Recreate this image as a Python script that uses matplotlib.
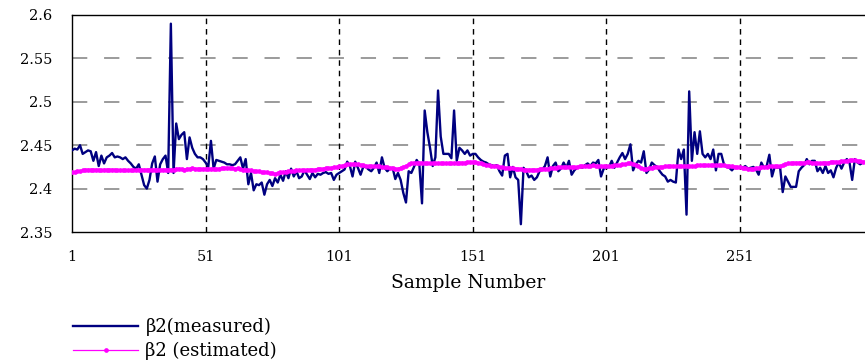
import numpy as np
import matplotlib
matplotlib.use("Agg")
import matplotlib.pyplot as plt

# ==========================================
# DATA
# ==========================================
measured = [
    2.444, 2.446, 2.445, 2.450, 2.440, 2.442, 2.444, 2.443, 2.432, 2.442,
    2.426, 2.438, 2.429, 2.436, 2.438, 2.441, 2.436, 2.437, 2.436, 2.434,
    2.436, 2.432, 2.429, 2.425, 2.423, 2.428, 2.416, 2.404, 2.400, 2.410,
    2.429, 2.437, 2.408, 2.428, 2.434, 2.438, 2.418, 2.590, 2.418, 2.475,
    2.457, 2.462, 2.465, 2.434, 2.459, 2.447, 2.440, 2.436, 2.436, 2.434,
    2.430, 2.425, 2.455, 2.423, 2.433, 2.432, 2.431, 2.430, 2.428, 2.428,
    2.427, 2.428, 2.432, 2.436, 2.423, 2.434, 2.405, 2.418, 2.398, 2.405,
    2.404, 2.407, 2.393, 2.405, 2.410, 2.403, 2.412, 2.407, 2.416, 2.409,
    2.420, 2.412, 2.423, 2.414, 2.420, 2.412, 2.414, 2.421, 2.416, 2.411,
    2.418, 2.413, 2.417, 2.416, 2.418, 2.419, 2.417, 2.418, 2.410, 2.416,
    2.418, 2.420, 2.422, 2.431, 2.426, 2.414, 2.431, 2.424, 2.416, 2.425,
    2.425, 2.422, 2.420, 2.424, 2.430, 2.418, 2.436, 2.424, 2.420, 2.423,
    2.424, 2.411, 2.418, 2.410, 2.395, 2.384, 2.420, 2.418, 2.425, 2.433,
    2.428, 2.383, 2.490, 2.465, 2.447, 2.426, 2.436, 2.513, 2.460, 2.440,
    2.440, 2.440, 2.435, 2.490, 2.432, 2.447, 2.444, 2.440, 2.444, 2.438,
    2.440, 2.440, 2.436, 2.433, 2.431, 2.430, 2.428, 2.427, 2.426, 2.427,
    2.420, 2.415, 2.438, 2.440, 2.413, 2.425, 2.413, 2.410, 2.359, 2.424,
    2.420, 2.413, 2.415, 2.410, 2.413, 2.420, 2.422, 2.426, 2.436, 2.414,
    2.426, 2.430, 2.420, 2.423, 2.430, 2.424, 2.432, 2.416, 2.421, 2.424,
    2.425, 2.424, 2.427, 2.429, 2.426, 2.430, 2.429, 2.433, 2.414, 2.423,
    2.424, 2.425, 2.432, 2.424, 2.430, 2.436, 2.441, 2.434, 2.440, 2.451,
    2.421, 2.428, 2.432, 2.430, 2.443, 2.418, 2.422, 2.430, 2.427, 2.425,
    2.420, 2.416, 2.414, 2.408, 2.410, 2.408, 2.407, 2.445, 2.434, 2.445,
    2.370, 2.512, 2.432, 2.465, 2.440, 2.466, 2.440, 2.436, 2.440, 2.434,
    2.445, 2.421, 2.440, 2.440, 2.428, 2.425, 2.424, 2.421, 2.425, 2.424,
    2.425, 2.424, 2.426, 2.423, 2.424, 2.425, 2.422, 2.416, 2.430, 2.424,
    2.426, 2.439, 2.414, 2.425, 2.424, 2.425, 2.396, 2.414, 2.408, 2.402,
    2.402, 2.402, 2.420, 2.424, 2.427, 2.434, 2.428, 2.432, 2.432, 2.420,
    2.424, 2.418, 2.426, 2.418, 2.421, 2.413, 2.424, 2.430, 2.423, 2.430,
    2.434, 2.430, 2.410, 2.434, 2.430, 2.428, 2.430, 2.431,
]

estimated = [
    2.419, 2.419, 2.420, 2.420, 2.421, 2.422, 2.422, 2.422, 2.422, 2.422,
    2.422, 2.421, 2.422, 2.422, 2.422, 2.422, 2.422, 2.421, 2.421, 2.421,
    2.421, 2.421, 2.421, 2.421, 2.421, 2.422, 2.422, 2.422, 2.422, 2.422,
    2.422, 2.422, 2.422, 2.422, 2.422, 2.422, 2.422, 2.422, 2.422, 2.423,
    2.423, 2.423, 2.422, 2.423, 2.423, 2.424, 2.423, 2.423, 2.423, 2.423,
    2.423, 2.423, 2.423, 2.423, 2.423, 2.423, 2.424, 2.424, 2.424, 2.424,
    2.424, 2.423, 2.424, 2.423, 2.422, 2.422, 2.421, 2.421, 2.420, 2.420,
    2.420, 2.419, 2.419, 2.419, 2.418, 2.418, 2.417, 2.418, 2.419, 2.419,
    2.419, 2.420, 2.420, 2.420, 2.421, 2.421, 2.421, 2.421, 2.422, 2.422,
    2.422, 2.422, 2.423, 2.423, 2.423, 2.424, 2.424, 2.424, 2.425, 2.425,
    2.426, 2.426, 2.427, 2.428, 2.428, 2.428, 2.428, 2.428, 2.427, 2.427,
    2.426, 2.426, 2.426, 2.426, 2.426, 2.426, 2.425, 2.425, 2.425, 2.424,
    2.424, 2.423, 2.423, 2.424, 2.425, 2.426, 2.428, 2.429, 2.430, 2.430,
    2.430, 2.430, 2.429, 2.429, 2.429, 2.429, 2.429, 2.429, 2.429, 2.429,
    2.429, 2.429, 2.429, 2.429, 2.429, 2.430, 2.430, 2.430, 2.431, 2.431,
    2.431, 2.431, 2.430, 2.429, 2.428, 2.427, 2.427, 2.426, 2.426, 2.426,
    2.425, 2.425, 2.424, 2.424, 2.424, 2.424, 2.423, 2.423, 2.423, 2.422,
    2.422, 2.422, 2.422, 2.422, 2.422, 2.423, 2.423, 2.423, 2.423, 2.424,
    2.424, 2.424, 2.425, 2.425, 2.425, 2.425, 2.425, 2.425, 2.425, 2.425,
    2.426, 2.426, 2.426, 2.426, 2.426, 2.427, 2.426, 2.426, 2.426, 2.426,
    2.426, 2.426, 2.426, 2.427, 2.427, 2.427, 2.428, 2.428, 2.429, 2.429,
    2.428, 2.427, 2.426, 2.424, 2.423, 2.423, 2.424, 2.424, 2.425, 2.425,
    2.425, 2.425, 2.426, 2.426, 2.426, 2.426, 2.426, 2.426, 2.426, 2.426,
    2.426, 2.426, 2.426, 2.426, 2.427, 2.427, 2.427, 2.427, 2.427, 2.427,
    2.427, 2.427, 2.427, 2.427, 2.427, 2.426, 2.426, 2.426, 2.425, 2.425,
    2.425, 2.424, 2.424, 2.423, 2.423, 2.423, 2.424, 2.424, 2.425, 2.425,
    2.425, 2.426, 2.426, 2.426, 2.426, 2.426, 2.427, 2.428, 2.429, 2.429,
    2.430, 2.430, 2.430, 2.430, 2.430, 2.431, 2.431, 2.430, 2.430, 2.429,
    2.429, 2.430, 2.430, 2.430, 2.431, 2.431, 2.431, 2.431, 2.432, 2.432,
    2.432, 2.433, 2.433, 2.433, 2.432, 2.432, 2.431, 2.431,
]

sample = np.arange(1, len(measured) + 1)
x_ticks = [1, 51, 101, 151, 201, 251]
y_ticks = [2.35, 2.4, 2.45, 2.5, 2.55, 2.6]
y_labels = ["2.35", "2.4", "2.45", "2.5", "2.55", "2.6"]

# ==========================================
# PLOT
# ==========================================
# the original text is wide (stretched Times); DejaVu Serif is the closest wide serif
plt.rcParams['font.family'] = ['DejaVu Serif']

fig = plt.figure(figsize=(8.65, 3.62), dpi=100)
ax = fig.add_axes([72 / 865, 1 - 232 / 362, 1 - 72 / 865, (232 - 15) / 362])

ax.plot(sample, measured, color='#000080', lw=1.7, label='β2(measured)', zorder=3)
ax.plot(sample, estimated, color='#FF00FF', lw=1.4, marker='o', ms=3.4,
        markeredgewidth=0, label='β2 (estimated)', zorder=4)

ax.set_xlim(1, 297.8)
ax.set_ylim(2.35, 2.6)

# grid
for yv in [2.4, 2.45, 2.5, 2.55]:
    ax.axhline(yv, color='#808080', lw=1.1, ls=(0, (10, 11)), zorder=1)
for xv in x_ticks[1:]:
    ax.axvline(xv, color='black', lw=1.0, ls=(0, (4, 3.5)), zorder=1)

ax.spines['right'].set_visible(False)
for s in ['left', 'top', 'bottom']:
    ax.spines[s].set_linewidth(1.0)
    ax.spines[s].set_color('black')

ax.set_xticks(x_ticks)
ax.set_xticklabels([str(v) for v in x_ticks], fontsize=10.5)
ax.set_yticks(y_ticks)
ax.set_yticklabels(y_labels, fontsize=10.5)
ax.tick_params(axis='x', length=0, pad=13)
ax.tick_params(axis='y', length=0, pad=14)

ax.set_xlabel('Sample Number', fontsize=13.5, labelpad=7)

leg = fig.legend(loc='upper left', bbox_to_anchor=(66 / 865, 1 - 311 / 362),
                 frameon=False, fontsize=13, handlelength=3.6, handletextpad=0.4,
                 labelspacing=0.3, borderaxespad=0)
leg.get_lines()[1].set_linewidth(0.9)

plt.savefig('out.png', dpi=100, facecolor='white')
